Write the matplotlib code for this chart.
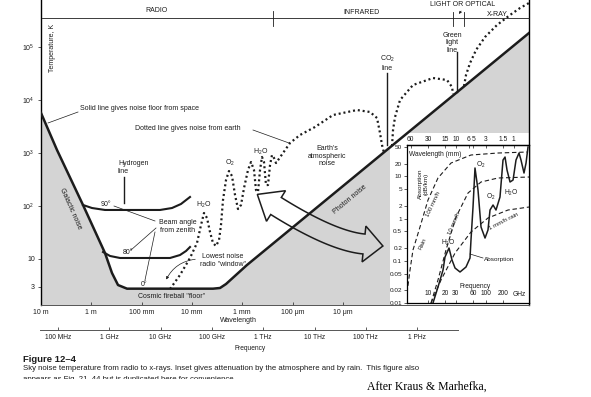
import numpy as np
import matplotlib
matplotlib.use('Agg')
import matplotlib.pyplot as plt
from matplotlib.patches import Rectangle, FancyArrowPatch, Polygon
from matplotlib.lines import Line2D
from matplotlib.ticker import NullLocator

plt.rcParams['font.family'] = ['Liberation Sans', 'DejaVu Sans']
plt.rcParams['mathtext.fontset'] = 'custom'
plt.rcParams['mathtext.rm'] = 'Liberation Sans'
plt.rcParams['mathtext.it'] = 'Liberation Sans:italic'
plt.rcParams['mathtext.bf'] = 'Liberation Sans:bold'

W, H = 591, 397
INK = '#1c1c1c'
GRAY = '#d4d4d4'

# ---- main chart: log10(wavelength / m), log10(T / K) ----
space_logwl = [1.00, 0.682, 0.165, -0.272, -0.411, -0.531, -0.710, -2.419, -2.559, -2.678, -3.095, -8.701]
space_logT = [3.755, 3.057, 2.019, 1.113, 0.736, 0.509, 0.440, 0.440, 0.453, 0.528, 0.887, 5.264]

beam90_logwl = [0.165, -0.014, -0.272, -0.769, -1.366, -1.604, -1.783, -1.962]
beam90_logT = [2.019, 1.962, 1.925, 1.925, 1.925, 1.962, 2.038, 2.170]
beam80_logwl = [-0.233, -0.372, -0.571, -1.167, -1.565, -1.763, -1.883, -1.962]
beam80_logT = [1.132, 1.057, 1.019, 1.019, 1.019, 1.075, 1.151, 1.226]

earth_radio_logwl = [-1.565, -1.763, -1.962, -2.101, -2.181, -2.240, -2.300, -2.360, -2.419, -2.479,
                     -2.539, -2.578, -2.618, -2.678, -2.737, -2.797, -2.857, -2.916, -2.976, -3.036,
                     -3.115, -3.175, -3.234, -3.274, -3.314, -3.354, -3.393, -3.433, -3.473, -3.513,
                     -3.553, -3.592, -3.632, -3.672, -3.811, -3.950, -4.149, -4.447, -4.805, -5.282,
                     -5.541, -5.680, -5.739, -5.779, -5.819]
earth_radio_logT = [0.434, 0.698, 1.019, 1.302, 1.641, 1.868, 1.774, 1.509, 1.302, 1.245,
                    1.358, 1.641, 2.113, 2.491, 2.660, 2.566, 2.208, 1.943, 2.019, 2.340,
                    2.679, 2.830, 2.679, 2.302, 2.264, 2.679, 2.925, 2.830, 2.396, 2.396,
                    2.774, 2.962, 2.906, 2.811, 3.000, 3.189, 3.340, 3.491, 3.717, 3.811,
                    3.774, 3.660, 3.377, 3.151, 3.000]
earth_ir_logwl = [-5.978, -5.998, -6.038, -6.137, -6.395, -6.793, -7.071, -7.171, -7.191]
earth_ir_logT = [3.132, 3.434, 3.679, 4.000, 4.283, 4.415, 4.377, 4.245, 4.113]
earth_uv_logwl = [-7.409, -7.449, -7.529, -7.648, -7.827, -8.065, -8.324, -8.523, -8.701]
earth_uv_logT = [4.264, 4.472, 4.698, 4.943, 5.189, 5.415, 5.604, 5.736, 5.830]

# spectral marker lines: log10 wavelength, (bottom, top) log10 T
hydrogen_line = (-0.650, (2.057, 2.547))
co2_line = (-5.878, (3.155, 4.509))
green_line = (-7.270, (4.147, 4.906))

wl_ticks = [10, 1, 0.1, 0.01, 1e-3, 1e-4, 1e-5]
wl_labels = ['10 m', '1 m', '100 mm', '10 mm', '1 mm', '100 \u03bcm', '10 \u03bcm']
T_ticks = [3, 10, 100, 1e3, 1e4, 1e5]
T_labels = ['3', '10', r'$\mathregular{10^2}$', r'$\mathregular{10^3}$',
            r'$\mathregular{10^4}$', r'$\mathregular{10^5}$']
freq_ticks = [1e8, 1e9, 1e10, 1e11, 1e12, 1e13, 1e14, 1e15]
freq_labels = ['100 MHz', '1 GHz', '10 GHz', '100 GHz', '1 THz', '10 THz', '100 THz', '1 PHz']

# ---- inset: log10(frequency / GHz), log10(attenuation / dB per km) ----
abs_logf = [1.086, 1.172, 1.259, 1.293, 1.362, 1.414, 1.466, 1.552, 1.655, 1.724, 1.741,
            1.776, 1.810, 1.862, 1.914, 1.983, 2.034, 2.069, 2.121, 2.172, 2.241, 2.293,
            2.328, 2.362, 2.414, 2.466, 2.517, 2.569, 2.603, 2.655, 2.690, 2.724]
abs_logA = [-2.0, -1.621, -1.218, -0.910, -0.697, -0.981, -1.171, -1.265, -1.147, -0.934, -0.507,
            0.275, 1.200, 0.678, -0.199, -0.460, -0.270, 0.204, 0.323, 0.204, 0.512, 1.389,
            1.460, 1.152, 0.868, 0.915, 1.389, 1.555, 1.389, 1.081, 1.318, 1.697]
rain100_logf = [0.638, 0.690, 0.741, 0.862, 1.000, 1.172, 1.397, 1.741, 2.207, 2.724]
rain100_logA = [-1.763, -1.218, -0.744, -0.199, 0.441, 0.963, 1.318, 1.508, 1.555, 1.579]
rain10_logf = [1.052, 1.172, 1.310, 1.483, 1.690, 1.914, 2.207, 2.741]
rain10_logA = [-2.0, -1.455, -0.744, 0.038, 0.607, 0.868, 0.963, 0.986]
rain1_logf = [1.052, 1.224, 1.466, 1.741, 2.034, 2.379, 2.741]
rain1_logA = [-2.0, -1.455, -0.815, -0.317, 0.015, 0.204, 0.275]

inset_f_ticks = [10, 20, 30, 60, 100, 200]
inset_A_ticks = [0.01, 0.02, 0.05, 0.1, 0.2, 0.5, 1, 2, 5, 10, 20, 50]
inset_A_labels = ['0.01', '0.02', '0.05', '0.1', '0.2', '0.5', '1', '2', '5', '10', '20', '50']
inset_wl_ticks = [60, 30, 15, 10, 6, 5, 3, 1.5, 1]
inset_wl_labels = ['60', '30', '15', '10', '6', '5', '3', '1.5', '1']


def px(x, y):
    """picture pixel -> figure fraction"""
    return x / W, 1 - y / H


fig = plt.figure(figsize=(W / 100, H / 100), dpi=100)
fig.patch.set_facecolor('white')


def note(x, y, s, size=5, ha='center', va='center', **kw):
    fig.text(*px(x, y), s, fontsize=size, color=INK, ha=ha, va=va, **kw)


def leader(x0, y0, x1, y1, lw=0.5):
    (a, b), (c, d) = px(x0, y0), px(x1, y1)
    fig.add_artist(Line2D([a, c], [b, d], lw=lw, color=INK, transform=fig.transFigure))


# ---- main axes ----
ax = fig.add_axes([41 / W, 1 - 305 / H, 488 / W, 305 / H])
ax.set_xscale('log')
ax.set_yscale('log')
x_lo, x_hi = 10.0, 10 ** -8.701
y_lo, y_hi = 10 ** 0.132, 10 ** 5.887
ax.set_xlim(x_lo, x_hi)
ax.set_ylim(y_lo, y_hi)

sx = 10 ** np.array(space_logwl)
sy = 10 ** np.array(space_logT)
ax.fill_between(sx, sy, y_lo, color=GRAY, lw=0, zorder=1)
ax.add_patch(Rectangle((0.715, 0), 0.285, 0.564, transform=ax.transAxes,
                       facecolor='white', edgecolor='none', zorder=2))
ax.plot(sx, sy, color=INK, lw=1.8, solid_joinstyle='round', zorder=5)
for lw_, lt_ in [(beam90_logwl, beam90_logT), (beam80_logwl, beam80_logT)]:
    ax.plot(10 ** np.array(lw_), 10 ** np.array(lt_), color=INK, lw=1.5,
            solid_joinstyle='round', zorder=5)
for lw_, lt_ in [(earth_radio_logwl, earth_radio_logT), (earth_ir_logwl, earth_ir_logT),
                 (earth_uv_logwl, earth_uv_logT)]:
    ax.plot(10 ** np.array(lw_), 10 ** np.array(lt_), color=INK, lw=1.6,
            linestyle=(0, (0.9, 1.3)), zorder=5)
for wl, (t0, t1) in [hydrogen_line, co2_line, green_line]:
    ax.plot([10 ** wl, 10 ** wl], [10 ** t0, 10 ** t1], color=INK, lw=1.0, zorder=5)

ax.spines['top'].set_visible(False)
ax.spines['left'].set_linewidth(1.0)
ax.spines['right'].set_linewidth(1.0)
ax.spines['bottom'].set_linewidth(0.7)
ax.spines['bottom'].set_color('#555555')
ax.set_xticks(wl_ticks, labels=wl_labels)
ax.set_yticks(T_ticks, labels=T_labels)
ax.xaxis.set_minor_locator(NullLocator())
ax.yaxis.set_minor_locator(NullLocator())
ax.tick_params(axis='x', direction='in', length=2.5, width=0.5, pad=3, labelsize=5, colors=INK)
ax.tick_params(axis='y', direction='out', length=2.5, width=0.5, pad=2, labelsize=5, colors=INK)
ax.set_facecolor('white')

# ---- frequency axis below ----
axf = fig.add_axes([40 / W, 1 - 330 / H, 418 / W, 0.0001])
axf.set_xscale('log')
axf.set_xlim(10 ** 7.649, 10 ** 15.797)
for s in ['top', 'left', 'right']:
    axf.spines[s].set_visible(False)
axf.spines['bottom'].set_linewidth(0.7)
axf.spines['bottom'].set_color('#555555')
axf.set_yticks([])
axf.set_xticks(freq_ticks, labels=freq_labels)
axf.xaxis.set_minor_locator(NullLocator())
axf.tick_params(axis='x', direction='in', length=2.5, width=0.5, pad=3, labelsize=4.8, colors=INK)
axf.patch.set_visible(False)

# ---- inset ----
axi = fig.add_axes([407 / W, 1 - 303 / H, 122 / W, 158 / H])
axi.set_xscale('log')
axi.set_yscale('log')
axi.set_xlim(10 ** 0.638, 10 ** 2.741)
axi.set_ylim(0.01, 10 ** 1.745)
axi.plot(10 ** np.array(abs_logf), 10 ** np.array(abs_logA), color=INK, lw=1.1,
         solid_joinstyle='round')
for lf, la in [(rain100_logf, rain100_logA), (rain10_logf, rain10_logA), (rain1_logf, rain1_logA)]:
    axi.plot(10 ** np.array(lf), 10 ** np.array(la), color=INK, lw=0.8, linestyle=(0, (4, 2.5)))
axi.set_xticks(inset_f_ticks, labels=[str(v) for v in inset_f_ticks])
axi.set_yticks(inset_A_ticks, labels=inset_A_labels)
axi.xaxis.set_minor_locator(NullLocator())
axi.yaxis.set_minor_locator(NullLocator())
axi.tick_params(axis='x', direction='in', length=2.5, width=0.5, pad=-9.5, labelsize=4.8, colors=INK)
axi.tick_params(axis='y', direction='out', length=2, width=0.5, pad=1.5, labelsize=4.6, colors=INK)
for s in axi.spines.values():
    s.set_linewidth(0.9)


def ghz_to_mm(f):
    with np.errstate(divide='ignore', invalid='ignore'):
        return 300.0 / np.asarray(f, dtype=float)


sec = axi.secondary_xaxis('top', functions=(ghz_to_mm, ghz_to_mm))
sec.set_xticks(inset_wl_ticks, labels=inset_wl_labels)
sec.xaxis.set_minor_locator(NullLocator())
sec.tick_params(direction='in', length=2.5, width=0.5, pad=1.5, labelsize=4.8, colors=INK)
sec.spines['top'].set_linewidth(0.9)

# ---- hollow double-headed arrow linking the inset to the chart ----
p0, pc, p2 = np.array([276.0, 206.0]), np.array([332.0, 241.0]), np.array([364.0, 244.0])
t = np.linspace(0, 1, 40)[:, None]
mid = (1 - t) ** 2 * p0 + 2 * (1 - t) * t * pc + t ** 2 * p2
tan = np.gradient(mid, axis=0)
tan /= np.linalg.norm(tan, axis=1)[:, None]
nrm = np.stack([-tan[:, 1], tan[:, 0]], axis=1)
hs, hh = 10.0, 18.0
tip0 = mid[0] - 22 * tan[0]
tip1 = mid[-1] + 19 * tan[-1]
outline = np.vstack([
    [tip0, mid[0] + hh * nrm[0]],
    mid + hs * nrm,
    [mid[-1] + hh * nrm[-1], tip1, mid[-1] - hh * nrm[-1]],
    (mid - hs * nrm)[::-1],
    [mid[0] - hh * nrm[0]],
])
outline_fig = np.column_stack([outline[:, 0] / W, 1 - outline[:, 1] / H])
fig.add_artist(Polygon(outline_fig, closed=True, fill=False, edgecolor=INK, lw=1.1,
                       joinstyle='miter', transform=fig.transFigure))

# ---- band bar along the top ----
leader(42, 18, 529, 18, lw=0.6)
leader(273, 11, 273, 26, lw=0.6)
leader(453, 12, 453, 26, lw=0.6)
leader(464, 12, 464, 26, lw=0.6)
fig.add_artist(FancyArrowPatch(px(463, 9), px(457, 16), transform=fig.transFigure,
                               arrowstyle='-|>', mutation_scale=3.5, lw=0.5, color=INK))
note(157, 11, 'RADIO')
note(362, 13, 'INFRARED')
note(463, 4.5, 'LIGHT OR OPTICAL')
note(497, 15, 'X-RAY')

# ---- main chart labels ----
note(52, 48, 'Temperature, K', rotation=90)
note(80, 109, 'Solid line gives noise floor from space', ha='left')
leader(78, 112, 48, 123)
note(135, 128, 'Dotted line gives noise from earth', ha='left')
leader(253, 130, 289, 143)
note(118, 168, 'Hydrogen\nline', ha='left', linespacing=1.2)
note(106, 204, '90\u00b0')
note(128, 253, '80\u00b0')
note(144, 284, '0\u00b0')
note(178, 227, 'Beam angle\nfrom zenith', linespacing=1.2)
leader(155, 221, 114, 206)
leader(156, 228, 131, 250)
leader(155, 232, 145, 280)
note(204, 205, r'H$_2$O')
note(230, 163, r'O$_2$')
note(261, 152, r'H$_2$O')
note(223, 260, 'Lowest noise\nradio "window"', linespacing=1.2)
fig.add_artist(FancyArrowPatch(px(198, 259), px(165, 282), transform=fig.transFigure,
                               connectionstyle='arc3,rad=0.3', arrowstyle='-|>',
                               mutation_scale=4, lw=0.5, color=INK))
note(172, 297, 'Cosmic fireball "floor"')
note(70, 209, 'Galactic noise', rotation=-66)
note(327, 156, "Earth's\natmospheric\nnoise", linespacing=1.15)
note(387, 63, 'CO$_2$\nline', linespacing=1.15)
note(452, 43, 'Green\nlight\nline', linespacing=1.15)
note(350, 200, 'Photon noise', rotation=40)
note(238, 320, 'Wavelength')
note(250, 349, 'Frequency', size=4.8)

# ---- inset labels ----
note(409, 155, 'Wavelength (mm)', ha='left', size=4.8)
note(423, 184, 'Absorption\n(dB/km)', rotation=90, size=4.6, linespacing=1.1)
note(481, 165, r'O$_2$', size=4.8)
note(491, 197, r'O$_2$', size=4.8)
note(511, 193, r'H$_2$O', size=4.8)
note(448, 243, r'H$_2$O', size=4.8)
note(433, 204, '100 mm/h', rotation=65, size=4.4)
note(454, 223, '10 mm/h', rotation=67, size=4.4)
note(423, 244, 'Rain', rotation=66, size=4.4)
note(504, 221, '1 mm/h rain', rotation=27, size=4.4)
note(484, 259, 'Absorption', ha='left', size=4.6)
leader(483, 258, 470, 254)
note(475, 286, 'Frequency', size=4.8)
note(519, 294, 'GHz', size=4.8)

# ---- caption ----
note(23, 359, 'Figure 12\u20134', ha='left', size=6.8, fontweight='bold')
note(23, 369, 'Sky noise temperature from radio to x-rays. Inset gives attenuation by the '
     'atmosphere and by rain.  This figure also', ha='left', size=5.6)
note(23, 376, 'appears as Fig. 21\u201344 but is duplicated here for convenience.',
     ha='left', va='top', size=5.6)
# the scan cuts this last caption line through the middle
fig.add_artist(Rectangle(px(0, 397), 360 / W, 18.5 / H, transform=fig.transFigure,
                         facecolor='white', edgecolor='none', zorder=10))
fig.text(*px(367, 387), 'After Kraus & Marhefka,', family='Liberation Serif', fontsize=8.5,
         color='black', ha='left', va='center', zorder=11)

fig.savefig('out.png', dpi=100)
